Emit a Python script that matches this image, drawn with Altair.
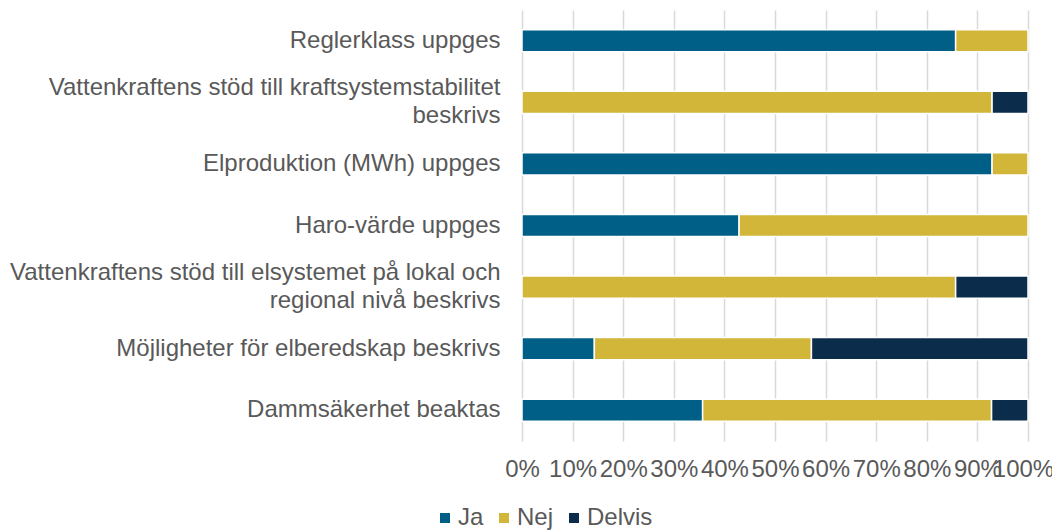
import altair as alt
import pandas as pd

categories = [
    "Reglerklass uppges",
    "Vattenkraftens stöd till kraftsystemstabilitet|beskrivs",
    "Elproduktion (MWh) uppges",
    "Haro-värde uppges",
    "Vattenkraftens stöd till elsystemet på lokal och|regional nivå beskrivs",
    "Möjligheter för elberedskap beskrivs",
    "Dammsäkerhet beaktas",
]
series = ["Ja", "Nej", "Delvis"]
ja = [0.857, 0.0, 0.929, 0.429, 0.0, 0.143, 0.357]
nej = [0.143, 0.929, 0.071, 0.571, 0.857, 0.429, 0.571]
delvis = [0.0, 0.071, 0.0, 0.0, 0.143, 0.428, 0.072]
colors = ["#005f87", "#d1b63a", "#0b2d4b"]

rows = []
for i, c in enumerate(categories):
    for j, (s, vals) in enumerate(zip(series, [ja, nej, delvis])):
        if vals[i] > 0:
            rows.append({"cat": c, "serie": s, "val": vals[i], "ord": j})
df = pd.DataFrame(rows)

font = "Liberation Sans"
grey = "#595959"

chart = alt.Chart(df).mark_bar(stroke="white", strokeWidth=1.5).encode(
    y=alt.Y("cat:N", sort=categories, title=None,
            scale=alt.Scale(paddingInner=0.64, paddingOuter=0.32),
            axis=alt.Axis(labelExpr="split(datum.label, '|')", labelFontSize=24,
                          labelFont=font, labelColor=grey, labelPadding=22,
                          labelLineHeight=28,
                          labelOffset={"condition": {"test": "indexof(datum.value, '|') >= 0",
                                                     "value": -14}, "value": 0},
                          ticks=False, domain=False,
                          grid=False, labelLimit=520)),
    x=alt.X("val:Q", stack="zero", title=None,
            scale=alt.Scale(domain=[0, 1], nice=False),
            axis=alt.Axis(format=".0%", values=[i / 10 for i in range(11)],
                          labelFontSize=24, labelFont=font, labelColor=grey,
                          labelPadding=16, ticks=False, domain=False,
                          labelOverlap=False, labelFlush=False,
                          labelOffset={"condition": {"test": "datum.value >= 1",
                                                     "value": -5}, "value": 0},
                          grid=True, gridColor="#d9d9d9", gridWidth=1.5)),
    color=alt.Color("serie:N", sort=series,
                    scale=alt.Scale(domain=series, range=colors),
                    legend=alt.Legend(title=None, orient="none", direction="horizontal",
                                      legendX=-89, legendY=496,
                                      symbolType="square", symbolSize=100,
                                      symbolStrokeWidth=0, gridAlign="none",
                                      labelFontSize=24, labelFont=font,
                                      labelColor=grey, columnPadding=8,
                                      labelOffset=1)),
    order=alt.Order("ord:Q"),
).properties(
    width=506, height=431, autosize="none",
    padding={"left": 514, "top": 2, "right": 24, "bottom": 90},
).configure_view(stroke=None)

chart.save("out.html", embed_options={"renderer": "svg", "actions": False})
